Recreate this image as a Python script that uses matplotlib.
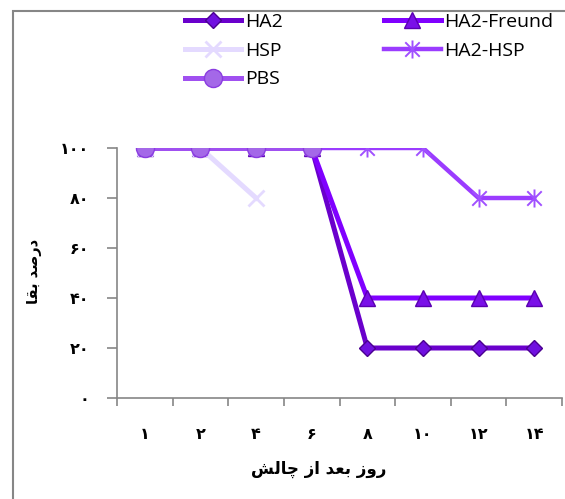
import numpy as np
import matplotlib
matplotlib.use("Agg")
import matplotlib.pyplot as plt
from matplotlib.path import Path
from matplotlib.patches import Rectangle
from matplotlib.ticker import FixedLocator

# survival (%) by day after challenge
days = [1, 2, 4, 6, 8, 10, 12, 14]
day_labels = ["۱", "۲", "۴", "۶", "۸", "۱۰", "۱۲", "۱۴"]
y_ticks = [0, 20, 40, 60, 80, 100]
y_labels = ["۰", "۲۰", "۴۰", "۶۰", "۸۰", "۱۰۰"]

ha2 = [100, 100, 100, 100, 20, 20, 20, 20]
ha2_freund = [100, 100, 100, 100, 40, 40, 40, 40]
hsp = [100, 100, 80, None, None, None, None, None]
ha2_hsp = [100, 100, 100, 100, 100, 100, 80, 80]
pbs = [100, 100, 100, 100, None, None, None, None]

# Persian labels written in visual order with presentation forms
xlabel = "\uFEB6\uFEDF\uFE8E\uFB7C \uFEAF\uFE8D \uFEAA\uFECC\uFE91 \uFEAF\uFEED\uFEAD"
ylabel = "\uFE8E\uFED8\uFE91 \uFEAA\uFEBB\uFEAD\uFEA9"

# asterisk marker: an x with a vertical bar
star = Path([(-1, -1), (1, 1), (-1, 1), (1, -1), (0, -1.25), (0, 1.25)],
            [Path.MOVETO, Path.LINETO, Path.MOVETO, Path.LINETO, Path.MOVETO, Path.LINETO])

W, H = 565, 499
fig = plt.figure(figsize=(W / 100, H / 100), dpi=100)
ax = fig.add_axes([117 / W, (H - 398) / H, 445 / W, 250 / H])

x = np.arange(len(days))


def vals(v):
    return np.array([np.nan if a is None else a for a in v], dtype=float)


l_ha2, = ax.plot(x, vals(ha2), color="#6a00cc", lw=3.6, marker="D", ms=8,
                 mfc="#7010e0", mec="#4a0090", mew=1, label="HA2", zorder=3)
l_fr, = ax.plot(x, vals(ha2_freund), color="#8000ff", lw=3.6, marker="^", ms=11,
                mfc="#7a10e8", mec="#5a00b0", mew=1, label="HA2-Freund", zorder=3)
l_hsp, = ax.plot(x, vals(hsp), color="#e4daff", lw=3.6, marker="x", ms=11,
                 mec="#e4daff", mew=2, label="HSP", zorder=4)
l_hh, = ax.plot(x, vals(ha2_hsp), color="#9b3cff", lw=3.2, marker=star, ms=13,
                mec="#a050ff", mew=1.4, label="HA2-HSP", zorder=5)
l_pbs, = ax.plot(x, vals(pbs), color="#a050f0", lw=3.6, marker="o", ms=13,
                 mfc="#a468e8", mec="#8a3ce0", mew=1, label="PBS", zorder=6)

ax.set_xlim(-0.5, len(days) - 0.5)
ax.set_ylim(0, 100)

grey = "#868686"
for s in ["top", "right"]:
    ax.spines[s].set_visible(False)
for s in ["left", "bottom"]:
    ax.spines[s].set_color(grey)
    ax.spines[s].set_linewidth(1.2)

ax.xaxis.set_major_locator(FixedLocator(np.arange(len(days) + 1) - 0.5))
ax.xaxis.set_minor_locator(FixedLocator(x))
ax.set_xticklabels([])
ax.set_xticklabels(day_labels, minor=True)
ax.tick_params(axis="x", which="major", length=6, color=grey, width=1.2)
ax.tick_params(axis="x", which="minor", length=0, pad=21)

ax.set_yticks(y_ticks)
ax.set_yticklabels(y_labels)
ax.tick_params(axis="y", length=7, color=grey, width=1.2, pad=13)

for t in ax.get_xticklabels(minor=True) + ax.get_yticklabels():
    t.set_fontfamily("DejaVu Sans")
    t.set_fontweight("bold")
    t.set_fontsize(11.5)

fig.text(319 / W, 1 - 469 / H, xlabel, ha="center", va="center",
         fontsize=12, fontweight="bold", family="DejaVu Sans")
fig.text(35 / W, 1 - 271 / H, ylabel, ha="center", va="center", rotation=90,
         fontsize=10.5, fontweight="bold", family="DejaVu Sans")

# row-wise legend: two columns, filled column by column
fig.legend([l_ha2, l_hsp, l_pbs, l_fr, l_hh],
           ["HA2", "HSP", "PBS", "HA2-Freund", "HA2-HSP"],
           loc="upper left", bbox_to_anchor=(185 / W, 1 - 13 / H), ncol=2,
           frameon=False, borderpad=0, borderaxespad=0, handlelength=2.9,
           handletextpad=0.2, columnspacing=5.2, labelspacing=0.55,
           prop={"family": "Open Sans", "size": 14})

# outer frame
fig.add_artist(Rectangle((12.5 / W, -0.1), 1.2, 1 - 11 / H + 0.1,
                         transform=fig.transFigure, fill=False,
                         edgecolor=grey, lw=1.5))

fig.savefig("out.png", dpi=100)
